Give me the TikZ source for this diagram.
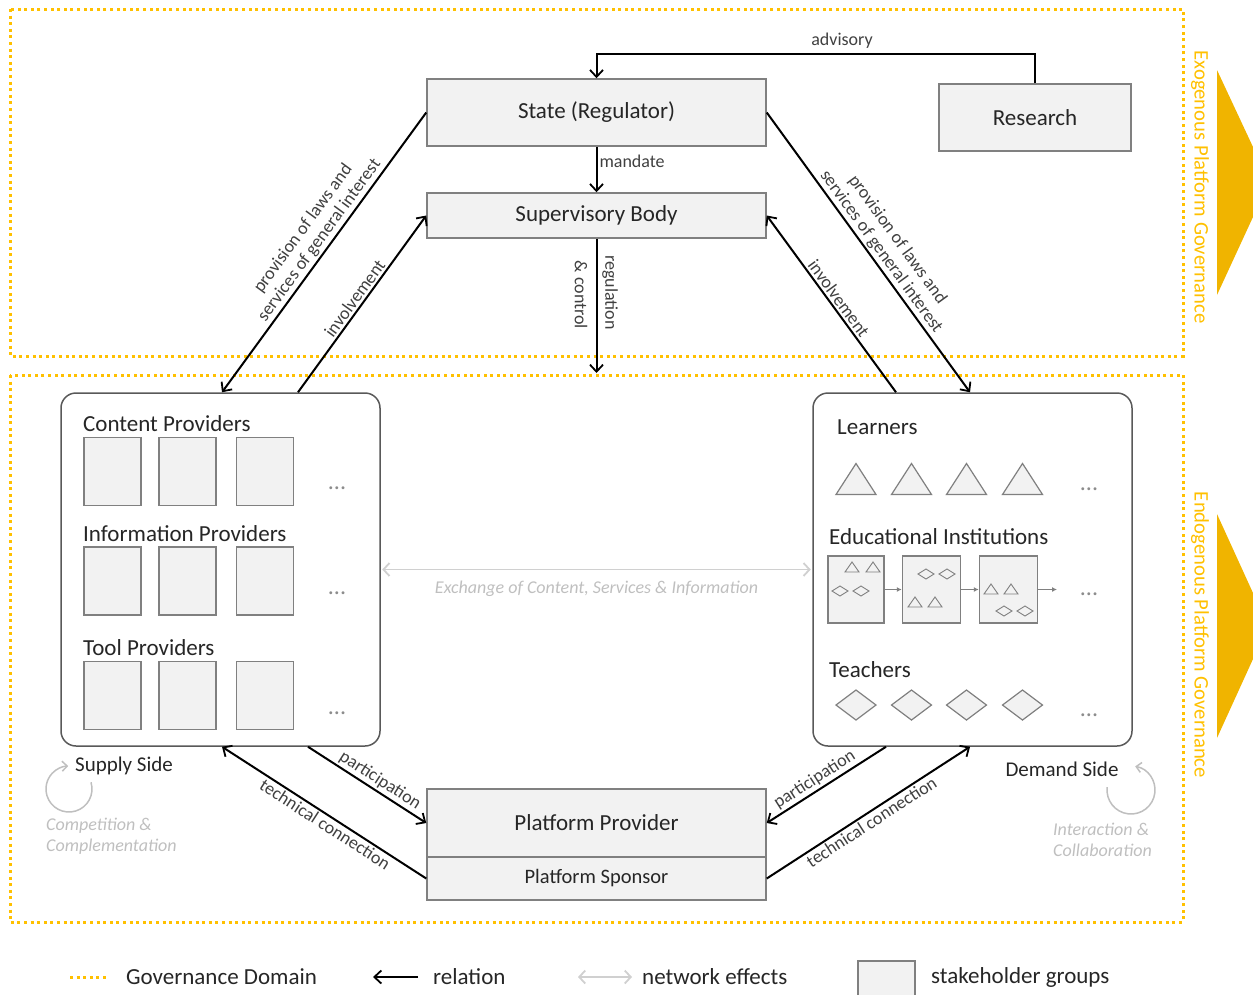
\documentclass[tikz,border=0pt]{standalone}
\usepackage{fontspec}
\setmainfont{Carlito}
\usetikzlibrary{arrows.meta,calc}
\definecolor{gold}{HTML}{FFC000}
\definecolor{golddark}{HTML}{F0B400}
\definecolor{boxfill}{HTML}{F2F2F2}
\definecolor{boxline}{HTML}{808080}
\definecolor{frameline}{HTML}{595959}
\definecolor{txt}{HTML}{262626}
\definecolor{lbl}{HTML}{404040}
\definecolor{netgray}{HTML}{D0D0D0}
\definecolor{softgray}{HTML}{BFBFBF}
\definecolor{dotgray}{HTML}{8C8C8C}
\newcommand\fsz[2]{\fontsize{#1}{#2}\selectfont}
\tikzset{
  box/.style={draw=boxline, fill=boxfill, line width=1.5pt, inner sep=0pt, text=txt, font=\fsz{23}{27}},
  panel/.style={draw=frameline, fill=white, line width=1.5pt, rounded corners=15pt, inner sep=0pt},
  rel/.style={draw=black, line width=2pt, -{Straight Barb[length=7pt,width=13pt,line width=1.8pt]}},
  lab/.style={text=lbl, font=\fsz{18}{20}, inner sep=2pt},
  gov/.style={draw=gold, line width=3pt, dash pattern=on 3pt off 3.6pt},
  net/.style={draw=netgray, line width=1.8pt, {Straight Barb[length=6pt,width=13pt]}-{Straight Barb[length=6pt,width=13pt]}},
  sq/.style={box, minimum width=57pt, minimum height=68pt},
  head/.style={text=txt, font=\fsz{23}{27}, inner sep=0pt, anchor=west},
  dots/.style={text=dotgray, font=\fsz{24}{26}, inner sep=0pt},
  icon/.style={draw=boxline, line width=1.2pt, fill=boxfill},
  sicon/.style={draw=boxline, line width=0.9pt},
  small/.style={draw=boxline, line width=1pt, -{Latex[length=5pt,width=5pt]}},
  cyc/.style={draw=softgray, line width=1.5pt, -{Straight Barb[length=5pt,width=10pt]}},
  note/.style={text=softgray, font=\itshape\fsz{18}{21}, align=left, inner sep=0pt, anchor=west},
  side/.style={text=gold, font=\fsz{20.7}{24}, rotate=-90, inner sep=0pt},
  legend/.style={text=txt, font=\fsz{23}{26}, inner sep=0pt, anchor=west},
  ltri/.pic={\draw[icon] (-20,15.5) -- (0,-15.5) -- (20,15.5) -- cycle;},
  tdia/.pic={\draw[icon] (-20,0) -- (0,-15) -- (20,0) -- (0,15) -- cycle;},
  stri/.pic={\draw[sicon] (-7,5) -- (0,-5) -- (7,5) -- cycle;},
  sdia/.pic={\draw[sicon] (-8,0) -- (0,-5) -- (8,0) -- (0,5) -- cycle;}
}
\begin{document}
\begin{tikzpicture}[x=1pt,y=-1pt]
\useasboundingbox (0,0) rectangle (1253,994);
% governance frames
\draw[gov] (10,9) rectangle (1183,356);
\draw[gov] (10,375) rectangle (1183,922);
% side arrows
\fill[golddark] (1217,70) -- (1253,147) -- (1253,217) -- (1217,295) -- cycle;
\fill[golddark] (1217,514) -- (1253,593) -- (1253,659) -- (1217,738) -- cycle;
\node[side] (exo) at (1200,187) {Exogenous Platform Governance};
\node[side] (endo) at (1200,635) {Endogenous Platform Governance};

% main nodes
\node[box, minimum width=339pt, minimum height=67pt] (state) at (596.5,112.5) {State (Regulator)};
\node[box, minimum width=339pt, minimum height=45pt] (sup) at (596.5,215.5) {Supervisory Body};
\node[box, minimum width=192pt, minimum height=67pt] (research) at (1035,117.5) {Research};
\node[box, minimum width=339pt, minimum height=68pt] (provider) at (596.5,823) {Platform Provider};
\node[box, minimum width=339pt, minimum height=43pt, font=\fsz{20.5}{24}] (sponsor) at (596.5,878.5) {Platform Sponsor};
\node[panel, minimum width=319pt, minimum height=353pt] (leftbox) at (220.5,569.5) {};
\node[panel, minimum width=319pt, minimum height=353pt] (rightbox) at (972.5,569.5) {};

% left panel content
\node[head] (cph) at (83,424) {Content Providers};
\node[head] (iph) at (83,534) {Information Providers};
\node[head] (tph) at (83,648) {Tool Providers};
\foreach \r/\y in {1/471.5,2/581,3/695.5}{
  \foreach \c/\x in {1/112.5,2/187.5,3/265}{
    \node[sq] (sq\r\c) at (\x,\y) {};
  }
}
\node[dots] (dl1) at (337,488) {...};
\node[dots] (dl2) at (337,593) {...};
\node[dots] (dl3) at (337,713) {...};

% right panel content
\node[head] (lrn) at (837,427) {Learners};
\foreach \x in {856,911.5,966.5,1022.5}{\pic at (\x,479) {ltri};}
\node[dots] (dr1) at (1089,489) {...};
\node[head] (edu) at (829,537) {Educational Institutions};
\node[box, minimum width=56pt, minimum height=67pt] (ei1) at (856,589.5) {};
\node[box, minimum width=58pt, minimum height=67pt] (ei2) at (931.5,589.5) {};
\node[box, minimum width=58pt, minimum height=67pt] (ei3) at (1008.5,589.5) {};
\coordinate (eiend) at (1057,589.5);
\draw[small] (ei1.east) -- (ei2.west);
\draw[small] (ei2.east) -- (ei3.west);
\draw[small] (ei3.east) -- (eiend);
\pic at (852,567) {stri}; \pic at (873,567) {stri};
\pic at (840,591) {sdia}; \pic at (861,591) {sdia};
\pic at (926,574) {sdia}; \pic at (947,574) {sdia};
\pic at (915,602) {stri}; \pic at (935,602) {stri};
\pic at (991,589) {stri}; \pic at (1011,589) {stri};
\pic at (1004,611) {sdia}; \pic at (1025,611) {sdia};
\node[dots] (dr2) at (1089,594) {...};
\node[head] (tch) at (829,670) {Teachers};
\foreach \x in {856,911.5,966.5,1022.5}{\pic at (\x,705) {tdia};}
\node[dots] (dr3) at (1089,715) {...};

% relations
\draw[rel] (research.north) -- ++(0,-29) -| node[lab, pos=0.22, above=3pt] (adv) {advisory} (state.north);
\draw[rel] (state.south) -- node[lab, right, pos=0.33] (mand) {mandate} (sup.north);
\coordinate (regend) at (596.5,373);
\draw[rel] (sup.south) -- (regend);
\node[lab, rotate=-90] (reg1) at (610,292.5) {regulation};
\node[lab, rotate=-90] (reg2) at (581,295) {\& control};

\draw[rel] (state.west) -- node[lab, sloped, above, pos=0.48, align=center] (provL) {provision of laws and\\services of general interest} ($(leftbox.north)+(1.5,0)$);
\draw[rel] ($(leftbox.north)+(77.5,0)$) -- node[lab, sloped, above, pos=0.5] (invL) {involvement} (sup.west);
\draw[rel] (state.east) -- node[lab, sloped, above, pos=0.52, align=center] (provR) {provision of laws and\\services of general interest} ($(rightbox.north)+(-2.5,0)$);
\draw[rel] ($(rightbox.north)+(-76.5,0)$) -- node[lab, sloped, above, pos=0.5] (invR) {involvement} (sup.east);

\draw[rel] ($(leftbox.south)+(87.5,0)$) -- node[lab, sloped, above, pos=0.56] (partL) {participation} (provider.west);
\draw[rel] (sponsor.west) -- node[lab, sloped, below, pos=0.47] (techL) {technical connection} ($(leftbox.south)+(1.5,0)$);
\draw[rel] ($(rightbox.south)+(-86.5,0)$) -- node[lab, sloped, above, pos=0.55] (partR) {participation} (provider.east);
\draw[rel] (sponsor.east) -- node[lab, sloped, below, pos=0.49] (techR) {technical connection} ($(rightbox.south)+(-2.5,0)$);

% network effects exchange
\draw[net, shorten <=1.5pt, shorten >=1.5pt] (leftbox.east) -- node[below=11pt, text=softgray, font=\itshape\fsz{18}{20}, inner sep=0pt] (exch) {Exchange of Content, Services \& Information} (rightbox.west);

% supply / demand side
\node[text=txt, font=\fsz{21}{24}, inner sep=0pt, anchor=west] (supply) at (75,766) {Supply Side};
\draw[cyc] (69,789) ++(-17:23) arc[start angle=-17, end angle=268, radius=23];
\node[note] (comp) at (46,836.5) {Competition \&\\Complementation};
\node[text=txt, font=\fsz{21}{24}, inner sep=0pt] (demand) at (1062,769) {Demand Side};
\draw[cyc] (1131,790) ++(187:24) arc[start angle=187, end angle=-80, radius=24];
\node[note] (inter) at (1053,839.5) {Interaction \&\\Collaboration};

% legend
\coordinate (lg1) at (70,977); \coordinate (lg2) at (108,977);
\draw[gov] (lg1) -- (lg2);
\node[legend] (lgt1) at (126,977) {Governance Domain};
\coordinate (lr1) at (418,977); \coordinate (lr2) at (373,977);
\draw[rel] (lr1) -- (lr2);
\node[legend] (lgt2) at (433,977) {relation};
\coordinate (ln1) at (578,977); \coordinate (ln2) at (632,977);
\draw[net] (ln1) -- (ln2);
\node[legend] (lgt3) at (642,977) {network effects};
\node[box, minimum width=57pt, minimum height=50pt, anchor=north west] (lgbox) at (857,960) {};
\node[legend] (lgt4) at (931,977) {stakeholder groups};
\end{tikzpicture}
\end{document}
